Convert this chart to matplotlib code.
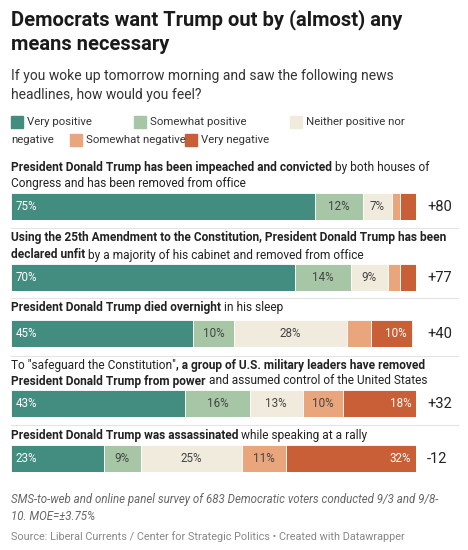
import matplotlib
matplotlib.use("Agg")
import matplotlib.pyplot as plt
import numpy as np

plt.rcParams['font.family'] = ['Roboto', 'DejaVu Sans']

# --- data ---
categories = ["Very positive", "Somewhat positive", "Neither positive nor negative",
              "Somewhat negative", "Very negative"]
colors = ["#428d80", "#a6c6a5", "#f0ebdc", "#e9a57b", "#c85f36"]
very_pos = [75, 70, 45, 43, 23]
some_pos = [12, 14, 10, 16, 9]
neither = [7, 9, 28, 13, 25]
some_neg = [2, 3, 6, 10, 11]
very_neg = [4, 4, 10, 18, 32]
net = ["+80", "+77", "+40", "+32", "-12"]
# each label: list of (text, bold) pieces per line
labels = [
    [[("President Donald Trump has been impeached and convicted", True), (" by both houses of", False)],
     [("Congress and has been removed from office", False)]],
    [[("Using the 25th Amendment to the Constitution, President Donald Trump has been", True)],
     [("declared unfit", True), (" by a majority of his cabinet and removed from office", False)]],
    [[("President Donald Trump died overnight", True), (" in his sleep", False)]],
    [[("To \"safeguard the Constitution\"", False), (", a group of U.S. military leaders have removed", True)],
     [("President Donald Trump from power", True), (" and assumed control of the United States", False)]],
    [[("President Donald Trump was assassinated", True), (" while speaking at a rally", False)]],
]

W, H = 468, 550
fig = plt.figure(figsize=(W / 100, H / 100), dpi=100)
fig.patch.set_facecolor("white")
renderer = fig.canvas.get_renderer()


def fy(py):
    return 1 - py / H


def rich_line(x, y, pieces, size=8.6, color="#222222"):
    for txt, bold in pieces:
        t = fig.text(x / W, fy(y), txt, fontsize=size, color=color, va="center",
                     fontweight="bold" if bold else "normal")
        bb = t.get_window_extent(renderer)
        x += bb.width


# title / subtitle
fig.text(11 / W, fy(20), "Democrats want Trump out by (almost) any", fontsize=14.5,
         fontweight="bold", color="#1a1a1a", va="center")
fig.text(11 / W, fy(45), "means necessary", fontsize=14.5, fontweight="bold",
         color="#1a1a1a", va="center")
fig.text(11 / W, fy(76), "If you woke up tomorrow morning and saw the following news",
         fontsize=10, color="#333333", va="center")
fig.text(11 / W, fy(95), "headlines, how would you feel?", fontsize=10, color="#333333", va="center")

# legend
leg = [(11, 122, 0, "Very positive"), (134, 122, 1, "Somewhat positive"),
       (290, 122, 2, "Neither positive nor"), (70, 140, 3, "Somewhat negative"),
       (185, 140, 4, "Very negative")]
for lx, ly, ci, name in leg:
    fig.patches.append(plt.Rectangle((lx / W, fy(ly + 6)), 12 / W, 12 / H,
                                     transform=fig.transFigure, color=colors[ci]))
    fig.text((lx + 16) / W, fy(ly), name, fontsize=8.2, color="#333333", va="center")
fig.text(11 / W, fy(140), "negative", fontsize=8.2, color="#333333", va="center")

# rows
bar_tops = [193, 264, 320, 390, 445]
label_y = [[168, 184], [238, 255], [307], [365, 381], [436]]
seps = [228, 298, 356, 425]
series = [very_pos, some_pos, neither, some_neg, very_neg]
for i in range(5):
    for j, line in enumerate(labels[i]):
        rich_line(11, label_y[i][j], line)
    ax = fig.add_axes([11 / W, fy(bar_tops[i] + 27), 405 / W, 27 / H])
    ax.set_xlim(0, 100)
    ax.set_ylim(-0.5, 0.5)
    ax.axis("off")
    left = 0
    for k, s in enumerate(series):
        v = s[i]
        ax.barh(0, v, left=left, height=1, color=colors[k], edgecolor="white", linewidth=0.6)
        if v >= 7:
            tc = "white" if k in (0, 4) else "#444444"
            if k == 4:
                ax.text(left + v - 1.2, 0, f"{v}%", ha="right", va="center", fontsize=8.4, color=tc)
            elif k == 0:
                ax.text(left + 1.2, 0, f"{v}%", ha="left", va="center", fontsize=8.4, color=tc)
            else:
                ax.text(left + v / 2, 0, f"{v}%", ha="center", va="center", fontsize=8.4, color=tc)
        left += v
    fig.text(427 / W, fy(bar_tops[i] + 14), net[i], fontsize=10.5, color="#222222", va="center")
for sy in seps:
    fig.add_artist(plt.Line2D([11 / W, 458 / W], [fy(sy), fy(sy)], color="#e4e4e4", lw=0.8))

# footer
fig.text(11 / W, fy(500), "SMS-to-web and online panel survey of 683 Democratic voters conducted 9/3 and 9/8-",
         fontsize=8.3, style="italic", color="#666666", va="center")
fig.text(11 / W, fy(516), "10. MOE=±3.75%", fontsize=8.3, style="italic", color="#666666", va="center")
fig.text(11 / W, fy(537), "Source: Liberal Currents / Center for Strategic Politics • Created with Datawrapper",
         fontsize=7.8, color="#888888", va="center")

fig.savefig("out.png", dpi=100, facecolor="white")
